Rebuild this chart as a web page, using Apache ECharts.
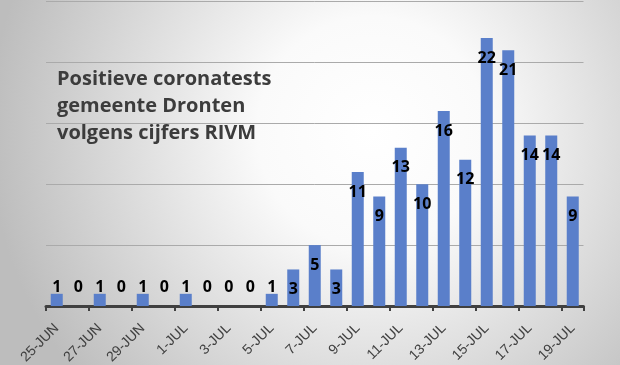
<!DOCTYPE html>
<html>
<head>
<meta charset="utf-8">
<script src="https://cdn.jsdelivr.net/npm/echarts@6/dist/echarts.min.js"></script>
<style>html,body{margin:0;padding:0;}#c{width:620px;height:365px;}</style>
</head>
<body>
<div id="c"></div>
<script>
var categories = ['25-JUN','26-JUN','27-JUN','28-JUN','29-JUN','30-JUN','1-JUL','2-JUL','3-JUL','4-JUL','5-JUL','6-JUL','7-JUL','8-JUL','9-JUL','10-JUL','11-JUL','12-JUL','13-JUL','14-JUL','15-JUL','16-JUL','17-JUL','18-JUL','19-JUL'];
var positives = [1,0,1,0,1,0,1,0,0,0,1,3,5,3,11,9,13,10,16,12,22,21,14,14,9];
var titleLines = ['Positieve coronatests','gemeente Dronten','volgens cijfers RIVM'];

var chart = echarts.init(document.getElementById('c'), null, {renderer:'canvas'});
var seriesData = positives.map(function(v){
  return v <= 1
    ? {value: v, label: {position: 'insideBottom', distance: 11}}
    : {value: v};
});
chart.setOption({
  animation: false,
  backgroundColor: {
    type: 'radial', x: 0.6, y: 0.36, r: 1.05,
    colorStops: [
      {offset: 0, color: '#ffffff'},
      {offset: 0.3, color: '#fafafa'},
      {offset: 1, color: '#bdbdbd'}
    ]
  },
  title: {
    text: titleLines.join('\n'),
    left: 52, top: 61,
    textStyle: {fontFamily: 'Open Sans', fontWeight: 'bold', fontSize: 20, lineHeight: 27, color: '#3c3c3c'}
  },
  grid: {left: 46, right: 36.5, top: 1.5, bottom: 59, containLabel: false, outerBoundsMode: 'none'},
  xAxis: {
    type: 'category',
    data: categories,
    boundaryGap: true,
    axisLine: {lineStyle: {color: '#404040', width: 3}},
    axisTick: {show: true, interval: 1, length: 5, lineStyle: {color: '#404040', width: 2}},
    axisLabel: {interval: 1, rotate: 45, margin: 20, fontFamily: 'Liberation Sans', fontSize: 14, color: '#404040'}
  },
  yAxis: {
    type: 'value', min: 0, max: 25, interval: 5,
    axisLine: {show: false}, axisTick: {show: false}, axisLabel: {show: false},
    splitLine: {lineStyle: {color: '#aaaaaa', width: 1}}
  },
  series: [{
    type: 'bar',
    data: seriesData,
    barWidth: 12,
    itemStyle: {color: '#5a7fca'},
    label: {show: true, position: 'insideTop', distance: 12, fontFamily: 'Open Sans', fontWeight: 'bold', fontSize: 16, color: '#000000'}
  }]
});
</script>
</body>
</html>
